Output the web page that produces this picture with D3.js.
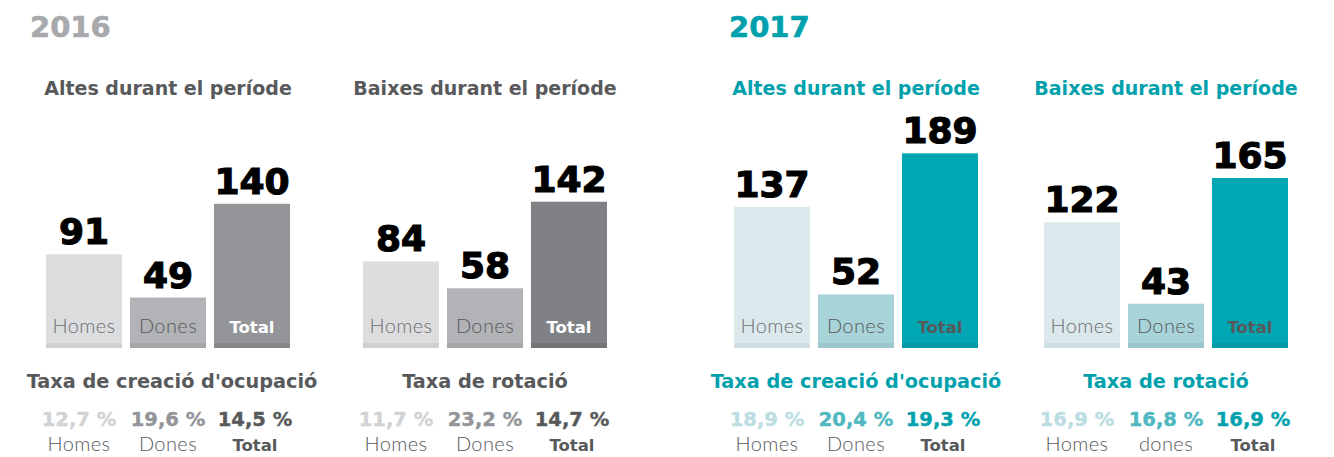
<!DOCTYPE html>
<html>
<head>
<meta charset="utf-8">
<script src="https://cdn.jsdelivr.net/npm/d3@7"></script>
<style>
  html, body { margin: 0; padding: 0; background: #ffffff; }
  svg { display: block; }
  .bold { font-family: "DejaVu Sans", sans-serif; font-weight: bold; }
  .light { font-family: "Lato", "Open Sans", sans-serif; font-weight: 300; }
</style>
</head>
<body>
<svg id="chart" width="1334" height="457"></svg>
<script>
// ---- data ----
const categories = ["Homes", "Dones", "Total"];
const years = ["2016", "2017"];
const panelTitles = ["Altes durant el període", "Baixes durant el període", "Altes durant el període", "Baixes durant el període"];
const panelYears = ["2016", "2016", "2017", "2017"];
const altes2016 = [91, 49, 140];
const baixes2016 = [84, 58, 142];
const altes2017 = [137, 52, 189];
const baixes2017 = [122, 43, 165];
const rateTitles = ["Taxa de creació d'ocupació", "Taxa de rotació", "Taxa de creació d'ocupació", "Taxa de rotació"];
const creacio2016 = [12.7, 19.6, 14.5];
const rotacio2016 = [11.7, 23.2, 14.7];
const creacio2017 = [18.9, 20.4, 19.3];
const rotacio2017 = [16.9, 16.8, 16.9];
const rateLabels = [
  ["Homes", "Dones", "Total"],
  ["Homes", "Dones", "Total"],
  ["Homes", "Dones", "Total"],
  ["Homes", "dones", "Total"]
];
const barValues = [altes2016, baixes2016, altes2017, baixes2017];
const rateValues = [creacio2016, rotacio2016, creacio2017, rotacio2017];

// ---- styles ----
const yearColor = {"2016": "#a7a9ac", "2017": "#00a1ad"};
const headColor = {"2016": "#58595b", "2017": "#00a1ad"};
const barFill = {
  "2016": ["#dcdddf", "#b1b3b6", "#939598"],
  "2017": ["#dbe9ed", "#a8d3d8", "#00a6b2"]
};
const barStrip = {
  "2016": ["#cfd0d2", "#a4a6a9", "#86878a"],
  "2017": ["#cddde1", "#9bc6cb", "#009aa6"]
};
const totalDark2016 = "#808184", totalDarkStrip2016 = "#747578";
const inLabelColor = {
  "2016": ["#6d6e71", "#58595b", "#ffffff"],
  "2017": ["#6d6e71", "#58595b", "#58595b"]
};
const rateColor = {
  "2016": ["#d1d2d4", "#939598", "#58595b"],
  "2017": ["#bcdde2", "#4fb8c0", "#00a1ad"]
};
const panelX = [46, 363, 734, 1044];
const panelW = 244;
const rateShift = [-5, 0, 3];

const locale = d3.formatLocale({decimal: ",", thousands: ".", grouping: [3], currency: ["", "€"]});
const fmt = locale.format(".1f");

const svg = d3.select("#chart");

const y = d3.scaleLinear().domain([0, 200]).range([348, 142]);

// Year headings
svg.selectAll("text.year").data(years).join("text")
  .attr("class", "year bold")
  .attr("x", (d, i) => i === 0 ? 30 : 729)
  .attr("y", 37)
  .attr("font-size", 29)
  .attr("fill", d => yearColor[d])
  .attr("stroke", d => yearColor[d]).attr("stroke-width", 0.6)
  .text(d => d);

panelTitles.forEach((title, p) => {
  const yr = panelYears[p];
  const g = svg.append("g");
  const x = d3.scaleBand().domain(categories)
    .range([panelX[p], panelX[p] + panelW]).paddingInner(0.095).paddingOuter(0);
  const cx = panelX[p] + panelW / 2;
  const vals = barValues[p];
  const data = categories.map((c, i) => ({c, i, v: vals[i]}));

  // panel title
  g.append("text").attr("class", "bold")
    .attr("x", cx).attr("y", 95).attr("text-anchor", "middle")
    .attr("font-size", 19).attr("fill", headColor[yr])
    .text(title);

  const fillOf = d => (yr === "2016" && p === 1 && d.i === 2) ? totalDark2016 : barFill[yr][d.i];
  const stripOf = d => (yr === "2016" && p === 1 && d.i === 2) ? totalDarkStrip2016 : barStrip[yr][d.i];

  // bars
  g.selectAll("rect.bar").data(data).join("rect")
    .attr("class", "bar")
    .attr("x", d => x(d.c)).attr("width", x.bandwidth())
    .attr("y", d => y(d.v)).attr("height", d => y(0) - y(d.v))
    .attr("fill", fillOf);
  // bottom strip
  g.selectAll("rect.strip").data(data).join("rect")
    .attr("class", "strip")
    .attr("x", d => x(d.c)).attr("width", x.bandwidth())
    .attr("y", y(0) - 5).attr("height", 5)
    .attr("fill", stripOf);

  // value labels
  g.selectAll("text.val").data(data).join("text")
    .attr("class", "val bold")
    .attr("x", d => x(d.c) + x.bandwidth() / 2)
    .attr("y", d => y(d.v) - 10)
    .attr("text-anchor", "middle")
    .attr("font-size", 36)
    .attr("fill", "#000").attr("stroke", "#000").attr("stroke-width", 1.2)
    .text(d => d.v);

  // in-bar labels
  g.selectAll("text.inl").data(data).join("text")
    .attr("class", d => d.i === 2 ? "inl bold" : "inl light")
    .attr("x", d => x(d.c) + x.bandwidth() / 2)
    .attr("y", 333)
    .attr("text-anchor", "middle")
    .attr("font-size", d => d.i === 2 ? 16.5 : 20)
    .attr("letter-spacing", d => d.i === 2 ? 0 : 0.4)
    .attr("fill", d => inLabelColor[yr][d.i])
    .text(d => d.c);

  // rate title
  g.append("text").attr("class", "bold")
    .attr("x", cx + (p === 0 ? 4 : 0)).attr("y", 388).attr("text-anchor", "middle")
    .attr("font-size", 19.3).attr("fill", headColor[yr])
    .text(rateTitles[p]);

  const rates = rateValues[p].map((v, i) => ({v, i, c: categories[i], lab: rateLabels[p][i]}));
  g.selectAll("text.rate").data(rates).join("text")
    .attr("class", "rate bold")
    .attr("x", d => x(d.c) + x.bandwidth() / 2 + rateShift[d.i])
    .attr("y", 426)
    .attr("text-anchor", "middle")
    .attr("font-size", 19.5)
    .attr("fill", d => rateColor[yr][d.i])
    .attr("stroke", d => rateColor[yr][d.i]).attr("stroke-width", 0.4)
    .text(d => fmt(d.v) + " %");

  g.selectAll("text.rlab").data(rates).join("text")
    .attr("class", d => d.i === 2 ? "rlab bold" : "rlab light")
    .attr("x", d => x(d.c) + x.bandwidth() / 2 + rateShift[d.i])
    .attr("y", 451)
    .attr("text-anchor", "middle")
    .attr("font-size", d => d.i === 2 ? 16.5 : 20)
    .attr("letter-spacing", d => d.i === 2 ? 0 : 0.4)
    .attr("fill", "#58595b")
    .text(d => d.lab);
});
</script>
</body>
</html>
